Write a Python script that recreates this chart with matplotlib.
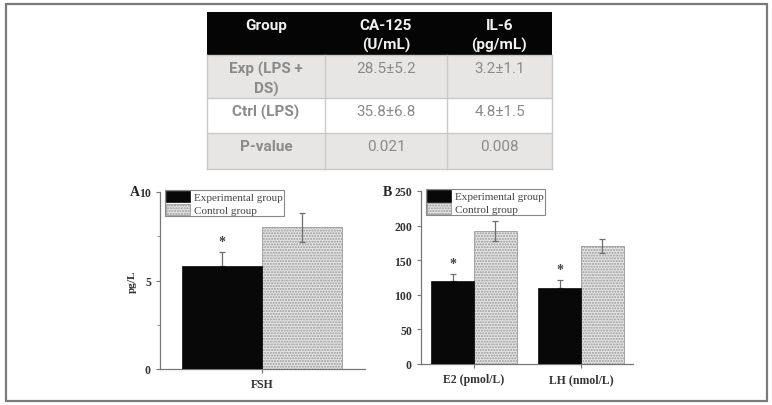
import matplotlib
matplotlib.use("Agg")
import matplotlib.pyplot as plt
from matplotlib.patches import Rectangle
import numpy as np

# ---------------- data ----------------
table_header = ["Group", "CA-125\n(U/mL)", "IL-6\n(pg/mL)"]
table_rows = [
    ["Exp (LPS +\nDS)", "28.5±5.2", "3.2±1.1"],
    ["Ctrl (LPS)", "35.8±6.8", "4.8±1.5"],
    ["P-value", "0.021", "0.008"],
]

series_names = ["Experimental group", "Control group"]

a_categories = ["FSH"]
a_exp = [5.8]
a_exp_err = [0.8]
a_ctrl = [8.0]
a_ctrl_err = [0.8]

b_categories = ["E2 (pmol/L)", "LH (nmol/L)"]
b_exp = [120, 110]
b_exp_err = [10, 11]
b_ctrl = [192, 170]
b_ctrl_err = [14, 10]

# ---------------- figure ----------------
W, H = 772, 406
fig = plt.figure(figsize=(W / 100, H / 100), dpi=100)
fig.patch.set_facecolor("white")

# overlay axes in pixel coords for frame and table
ov = fig.add_axes([0, 0, 1, 1])
ov.set_xlim(0, W)
ov.set_ylim(H, 0)
ov.axis("off")
ov.add_patch(Rectangle((6, 4.5), 761, 397.5, fill=False, edgecolor="#7a7a7a", lw=1.6))

col_x = [207, 325, 447, 552]
row_y = [13, 56, 99, 134, 170]
row_fill = ["#e7e6e5", "#ffffff", "#e7e6e5"]
sans = ["Roboto", "DejaVu Sans"]
tfs = 11

# header
ov.add_patch(Rectangle((col_x[0], row_y[0]), col_x[-1] - col_x[0], row_y[1] - row_y[0],
                       facecolor="#050505", edgecolor="none"))
for j, txt in enumerate(table_header):
    cx = (col_x[j] + col_x[j + 1]) / 2
    ov.text(cx, row_y[0] + 6, txt, ha="center", va="top", color="#f2f2f2",
            fontsize=tfs, fontweight="bold", family=sans, linespacing=1.45)
# body
for i, row in enumerate(table_rows):
    y0, y1 = row_y[i + 1], row_y[i + 2]
    ov.add_patch(Rectangle((col_x[0], y0), col_x[-1] - col_x[0], y1 - y0,
                           facecolor=row_fill[i], edgecolor="none"))
    for j, txt in enumerate(row):
        cx = (col_x[j] + col_x[j + 1]) / 2
        ov.text(cx, y0 + 6, txt, ha="center", va="top", color="#8a8a8a",
                fontsize=tfs, fontweight="bold" if j == 0 else "normal",
                family=sans, linespacing=1.45)
# grid lines
for y in row_y[1:]:
    ov.plot([col_x[0], col_x[-1]], [y, y], color="#c9c9c9", lw=1)
for x in col_x:
    ov.plot([x, x], [row_y[1], row_y[-1]], color="#c9c9c9", lw=1)

serif = "Liberation Serif"
BLACK = "#080808"
GRAY = "#e4e4e4"


def draw_panel(ax, cats, exp, exp_err, ctrl, ctrl_err, width):
    x = np.arange(len(cats))
    ax.errorbar(x - width / 2, exp, yerr=[[0] * len(exp), exp_err], fmt="none",
                ecolor="#6e6e6e", elinewidth=0.9, capsize=2, capthick=0.9, zorder=2)
    ax.bar(x - width / 2, exp, width, color=BLACK, edgecolor=BLACK, lw=0.5, zorder=3,
           label=series_names[0])
    ax.bar(x + width / 2, ctrl, width, color=GRAY, edgecolor="#9a9a9a", lw=0.6,
           hatch="......", zorder=2, label=series_names[1])
    ax.errorbar(x + width / 2, ctrl, yerr=ctrl_err, fmt="none",
                ecolor="#6e6e6e", elinewidth=0.9, capsize=2, capthick=0.9, zorder=4)
    for xi, v, e in zip(x, exp, exp_err):
        ax.text(xi - width / 2, v + e + (ax.get_ylim()[1]) * 0.025, "*",
                ha="center", va="bottom", fontsize=10, color="#444", family=serif,
                fontweight="bold")
    ax.set_xticks(x)
    ax.set_xticklabels(cats, family=serif, fontsize=9, fontweight="bold", color="#333")
    for s in ["top", "right"]:
        ax.spines[s].set_visible(False)
    for s in ["left", "bottom"]:
        ax.spines[s].set_color("#777")
        ax.spines[s].set_linewidth(0.9)
    ax.tick_params(axis="both", direction="out", length=3, width=0.8, color="#777",
                   labelsize=8.5, labelcolor="#333")
    for lab in ax.get_yticklabels():
        lab.set_family(serif)
        lab.set_fontweight("bold")
    leg = ax.legend(loc="upper left", bbox_to_anchor=(0.02, 1.02), frameon=True,
                    fancybox=False, edgecolor="#888", framealpha=1,
                    prop={"family": serif, "size": 8},
                    handlelength=2.1, handleheight=1.25, handletextpad=0.4,
                    borderpad=0.1, labelspacing=0.1, borderaxespad=0.1)
    leg.get_frame().set_linewidth(0.8)
    for t in leg.get_texts():
        t.set_color("#444")
    return ax


# Panel A
axA = fig.add_axes([160 / W, 1 - 370 / H, (365 - 160) / W, (370 - 193) / H])
axA.set_ylim(0, 10)
axA.set_xlim(-0.51, 0.515)
axA.set_yticks([0, 5, 10])
axA.set_yticks([2.5, 7.5], minor=True)
axA.tick_params(axis="y", which="minor", length=2, color="#777")
draw_panel(axA, a_categories, a_exp, a_exp_err, a_ctrl, a_ctrl_err, 0.4)
axA.set_ylabel("pg/L", family=serif, fontsize=8, fontweight="bold", color="#333", labelpad=2)
axA.text(-0.125, 1.0, "A", transform=axA.transAxes, family=serif, fontsize=10,
         fontweight="bold", ha="center", va="center", color="#222")

# Panel B
axB = fig.add_axes([421 / W, 1 - 365 / H, (633 - 421) / W, (365 - 192) / H])
axB.set_ylim(0, 250)
axB.set_xlim(-0.495, 1.485)
axB.set_yticks([0, 50, 100, 150, 200, 250])
draw_panel(axB, b_categories, b_exp, b_exp_err, b_ctrl, b_ctrl_err, 0.4)
axB.text(-0.16, 1.0, "B", transform=axB.transAxes, family=serif, fontsize=10,
         fontweight="bold", ha="center", va="center", color="#222")

fig.savefig("out.png", dpi=100, facecolor="white")
